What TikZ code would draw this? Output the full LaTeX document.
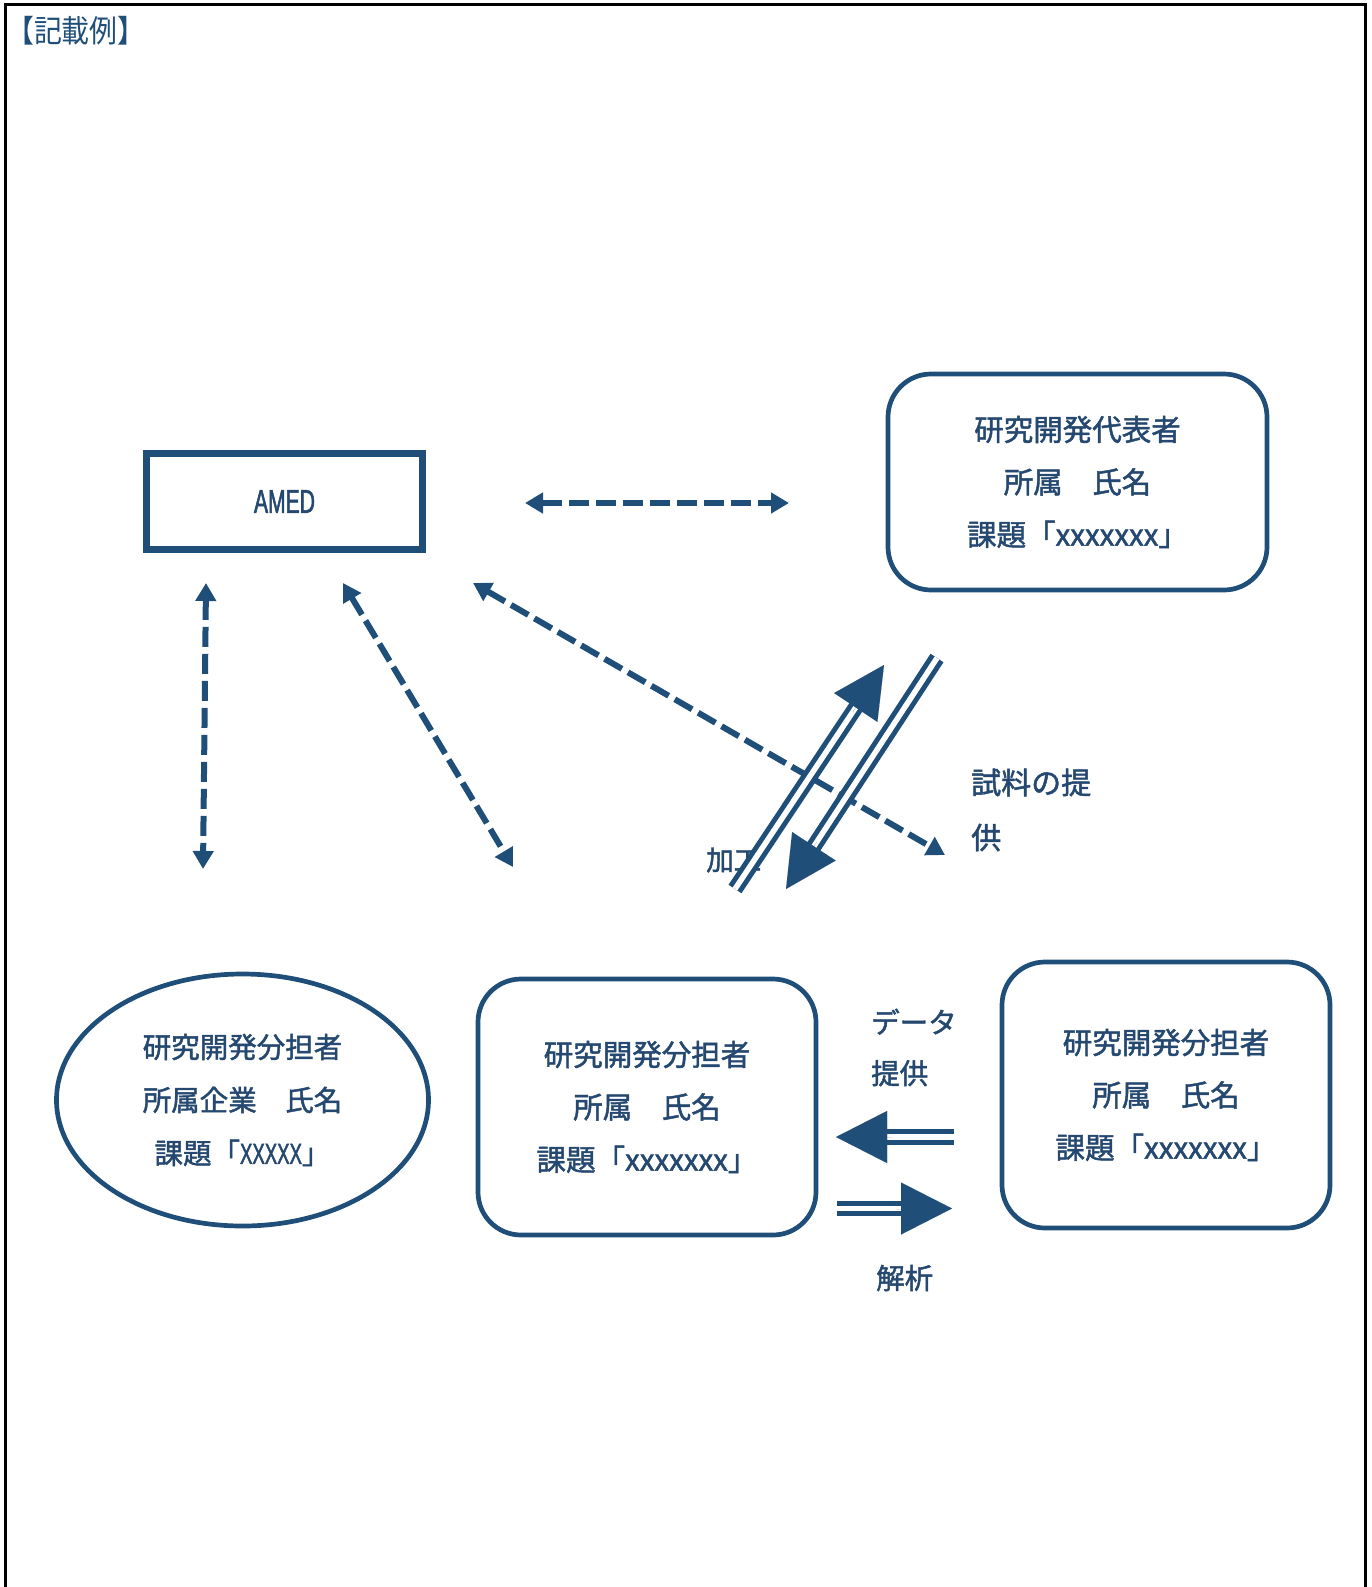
\documentclass[tikz,border=0pt]{standalone}
\usepackage{fontspec}
\setmainfont{Noto Sans CJK JP}[FakeBold=1.6]
\newfontfamily\narrowfont[FakeStretch=0.64,FakeBold=1.6]{Liberation Sans}
\newfontfamily\titlefont[FakeStretch=0.9]{Noto Sans CJK JP}
\usetikzlibrary{arrows.meta,calc,shapes.geometric}
\definecolor{navy}{HTML}{1F4E79}
\definecolor{txt}{HTML}{24486F}
\begin{document}
\begin{tikzpicture}[x=1pt,y=-1pt,
  every node/.style={text=txt},
  rbox/.style={draw=navy, line width=4.7pt, rounded corners=43pt, align=center, inner sep=0pt,
    font=\fontsize{29.5}{52.5}\selectfont},
  ellbox/.style={draw=navy, ellipse, line width=4.7pt, align=center, inner sep=0pt,
    font=\fontsize{28.5}{53}\selectfont},
  dasharrow/.style={draw=navy, line width=6pt, dash pattern=on 20pt off 7pt,
    {Triangle[length=18pt,width=20pt]}-{Triangle[length=18pt,width=20pt]}},
  dblshaft/.style={draw=navy, line width=5pt, double=white, double distance=5.5pt},
  bighead/.style={draw=navy, line width=0.01pt, -{Triangle[length=51pt,width=52pt]}},
  lbl/.style={font=\fontsize{29}{52}\selectfont, align=left, inner sep=0pt, anchor=west},
]
\useasboundingbox (0,0) rectangle (1371,1587);
% outer frame
\draw[black, line width=3pt] (5,1600) -- (5,5) -- (1365,5) -- (1365,1600);

% title
\node[anchor=west, inner sep=0pt, text=navy, font=\titlefont\fontsize{31}{31}\selectfont] (title) at (6,31) {【記載例】};

% nodes
\node[draw=navy, line width=7pt, minimum width=276pt, minimum height=96pt, inner sep=0pt,
  font=\narrowfont\fontsize{33}{33}\selectfont] (amed) at (284.5,501.5) {AMED};
\node[rbox, minimum width=379pt, minimum height=216pt] (rep) at (1077.5,482)
  {研究開発代表者\\所属　氏名\\課題「xxxxxxx」};
\node[ellbox, minimum width=372pt, minimum height=252pt] (sub1) at (242.5,1100)
  {研究開発分担者\\所属企業　氏名\\課題「{\narrowfont\fontsize{29}{29}\selectfont XXXXX}」};
\node[rbox, minimum width=338pt, minimum height=256pt] (sub2) at (647,1107)
  {研究開発分担者\\所属　氏名\\課題「xxxxxxx」};
\node[rbox, minimum width=328pt, minimum height=266pt] (sub3) at (1166,1095)
  {研究開発分担者\\所属　氏名\\課題「xxxxxxx」};

% labels
\node[lbl, font=\fontsize{27.5}{27.5}\selectfont] (kako) at (706,860) {加工};
\node[lbl, font=\fontsize{30}{55}\selectfont] (shiryo) at (971,810) {試料の提\\供};
\node[lbl, font=\fontsize{28.5}{51}\selectfont] (data) at (871,1047.5) {データ\\提供};
\node[lbl, font=\fontsize{28.5}{28.5}\selectfont] (kaiseki) at (876,1278) {解析};

% dashed arrows (free ends)
\coordinate (h1) at (525,503);  \coordinate (h2) at (789,503);
\coordinate (v1) at (206,583);  \coordinate (v2) at (203,869);
\coordinate (d1) at (343,583);  \coordinate (d2) at (513,867);
\coordinate (l1) at (473,583);  \coordinate (l2) at (945,855);
\draw[dasharrow] (h1) -- (h2);
\draw[dasharrow] (v1) -- (v2);
\draw[dasharrow] (d1) -- (d2);
\draw[dasharrow] (l1) -- (l2);

% big double-line arrows
\coordinate (ut) at (735,889);   \coordinate (uh) at (884,665);
\coordinate (dt) at (937,658);   \coordinate (dh) at (786,889);
\coordinate (lt) at (954,1137);  \coordinate (lh) at (836,1137);
\coordinate (rt) at (837,1208.5);\coordinate (rh) at (952,1208.5);

\draw[dblshaft] (ut) -- ($(uh)!46pt!(ut)$);
\draw[bighead] ($(uh)!56pt!(ut)$) -- (uh);
\draw[dblshaft] (dt) -- ($(dh)!46pt!(dt)$);
\draw[bighead] ($(dh)!56pt!(dt)$) -- (dh);
\draw[dblshaft] (lt) -- ($(lh)!46pt!(lt)$);
\draw[bighead] ($(lh)!56pt!(lt)$) -- (lh);
\draw[dblshaft] (rt) -- ($(rh)!46pt!(rt)$);
\draw[bighead] ($(rh)!56pt!(rt)$) -- (rh);
\end{tikzpicture}
\end{document}
